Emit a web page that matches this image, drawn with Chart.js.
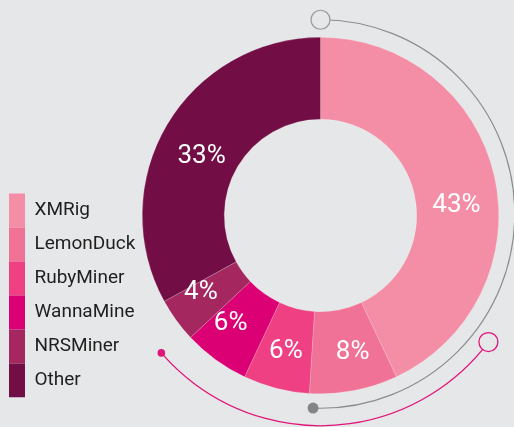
<!DOCTYPE html>
<html>
<head>
<meta charset="utf-8">
<script src="https://cdn.jsdelivr.net/npm/chart.js@4/dist/chart.umd.min.js"></script>
<style>
	body { margin: 0; background: #e6e7e8; }
	#wrap { width: 514px; height: 427px; position: relative; }
</style>
</head>
<body>
<div id="wrap"><canvas id="myChart"></canvas></div>
<script>
	// data
	const miners = ['XMRig', 'LemonDuck', 'RubyMiner', 'WannaMine', 'NRSMiner', 'Other'];
	const shares = [43, 8, 6, 6, 4, 33];
	const sliceColors = ['#f48ea6', '#f07297', '#ee4082', '#db0074', '#a4275f', '#720e45'];

	// small hand nudges for the % labels (x, y)
	const labelShift = [[0, 20], [6, 0], [0, 1], [-8, -5], [-7, -5], [1, 12]];

	// legend: widen so the donut sits where it should, and drop it a bit
	const legendTweak = {
		id: 'legendTweak',
		beforeInit(chart) {
			const legend = chart.legend;
			const fit = legend.fit;
			legend.fit = function() {
				fit.call(this);
				this.width = 133;
			};
			const draw = legend.draw;
			legend.draw = function() {
				const ctx = this.ctx;
				ctx.save();
				ctx.translate(0, 3.5);
				draw.call(this);
				ctx.restore();
			};
		}
	};

	// decorative arcs around the donut
	const ringDeco = {
		id: 'ringDeco',
		beforeDatasetsDraw(chart) {
			const arc = chart.getDatasetMeta(0).data[0];
			if (!arc) return;
			const ctx = chart.ctx;
			const cx = arc.x, cy = arc.y, R = arc.outerRadius;
			const deg = Math.PI / 180;
			ctx.save();

			// grey one
			const gy = cy - 1.5, gr = R + 16;
			ctx.strokeStyle = '#8c8c8c';
			ctx.lineWidth = 1.2;
			ctx.beginPath();
			ctx.arc(cx, gy, gr, -90 * deg, 92.2 * deg);
			ctx.stroke();
			ctx.beginPath();
			ctx.arc(cx, gy - gr, 9.5, 0, 2 * Math.PI);
			ctx.fillStyle = '#e6e7e8';
			ctx.fill();
			ctx.strokeStyle = '#999';
			ctx.stroke();
			ctx.beginPath();
			ctx.arc(cx + gr * Math.cos(92.2 * deg), gy + gr * Math.sin(92.2 * deg), 5.5, 0, 2 * Math.PI);
			ctx.fillStyle = '#858585';
			ctx.fill();

			// pink one
			const pr = R + 32;
			ctx.strokeStyle = '#e0157a';
			ctx.lineWidth = 1.3;
			ctx.beginPath();
			ctx.arc(cx, cy, pr, 37 * deg, 139.2 * deg);
			ctx.stroke();
			ctx.beginPath();
			ctx.arc(cx + pr * Math.cos(37 * deg), cy + pr * Math.sin(37 * deg), 9.5, 0, 2 * Math.PI);
			ctx.fillStyle = '#e6e7e8';
			ctx.fill();
			ctx.stroke();
			ctx.beginPath();
			ctx.arc(cx + pr * Math.cos(139.2 * deg), cy + pr * Math.sin(139.2 * deg), 3.8, 0, 2 * Math.PI);
			ctx.fillStyle = '#e0157a';
			ctx.fill();
			ctx.restore();
		}
	};

	// % labels inside the ring
	const pctLabels = {
		id: 'pctLabels',
		afterDatasetsDraw(chart) {
			const ctx = chart.ctx;
			const values = chart.data.datasets[0].data;
			const total = values.reduce((a, b) => a + b, 0);
			ctx.save();
			ctx.fillStyle = '#ffffff';
			ctx.font = '26px Roboto';
			ctx.textAlign = 'center';
			ctx.textBaseline = 'middle';
			chart.getDatasetMeta(0).data.forEach(function(arc, i) {
				const mid = (arc.startAngle + arc.endAngle) / 2;
				const r = (arc.innerRadius + arc.outerRadius) / 2 + 2;
				const x = arc.x + r * Math.cos(mid) + labelShift[i][0];
				const y = arc.y + r * Math.sin(mid) + labelShift[i][1];
				ctx.fillText(Math.round(values[i] / total * 100) + '%', x, y);
			});
			ctx.restore();
		}
	};

	const data = {
		labels: miners,
		datasets: [{
			data: shares,
			backgroundColor: sliceColors,
			borderColor: 'rgba(255, 255, 255, 0.35)',
			borderWidth: 0.5
		}]
	};

	const config = {
		type: 'doughnut',
		data,
		options: {
			responsive: true,
			maintainAspectRatio: false,
			animation: false,
			cutout: '54%',
			layout: {
				padding: { left: 9, top: 37, right: 15, bottom: 33 }
			},
			plugins: {
				tooltip: { enabled: false },
				legend: {
					position: 'left',
					align: 'end',
					labels: {
						boxWidth: 16,
						boxHeight: 34,
						padding: 0,
						color: '#1f1f1f',
						font: { family: 'Roboto', size: 19 },
						generateLabels: chart => Chart.overrides.doughnut.plugins.legend.labels
							.generateLabels(chart).map(l => Object.assign(l, { lineWidth: 0 }))
					}
				}
			}
		},
		plugins: [legendTweak, ringDeco, pctLabels]
	};

	const myChart = new Chart(document.getElementById('myChart'), config);
</script>
</body>
</html>
